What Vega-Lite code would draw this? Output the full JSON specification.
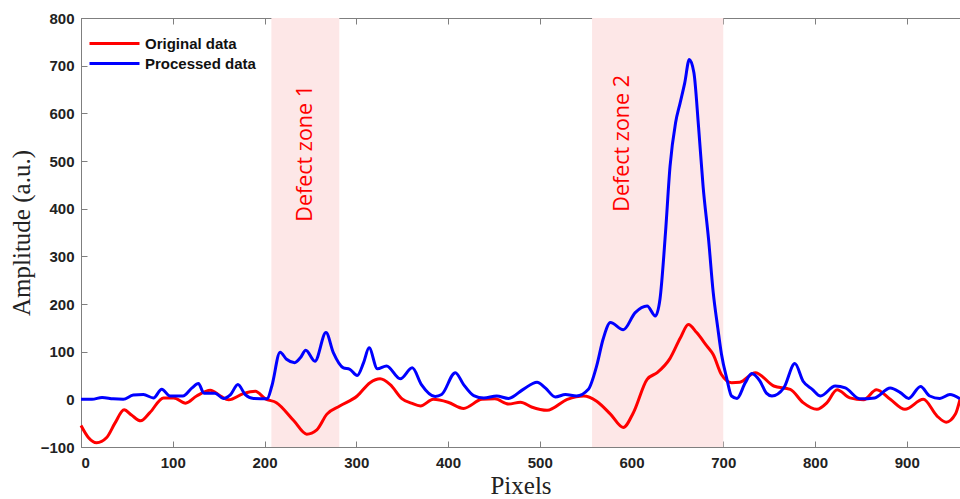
{
  "$schema": "https://vega.github.io/schema/vega-lite/v6.json",
  "width": 879,
  "height": 429,
  "autosize": "none",
  "padding": {"left": 81, "top": 18, "right": 0, "bottom": 52},
  "background": "white",
  "config": {
    "view": {"stroke": "#7f7f7f", "strokeWidth": 1},
    "axis": {
      "domainColor": "#7f7f7f",
      "tickColor": "#7f7f7f",
      "grid": false,
      "labelFont": "Liberation Sans",
      "labelFontWeight": "bold",
      "labelFontSize": 15,
      "labelColor": "#222222",
      "titleFont": "Liberation Serif",
      "titleFontWeight": "normal",
      "titleFontSize": 25,
      "titleColor": "#222222"
    }
  },
  "datasets": {
    "zones": [
      {"start": 207.5, "end": 281.5},
      {"start": 557, "end": 700}
    ],
    "labels": [
      {"x": 245.5, "y": 516, "label": "Defect zone 1"},
      {"x": 591, "y": 537, "label": "Defect zone 2"}
    ],
    "series": [
      {"series": "Original data", "x": 0, "y": -55},
      {"series": "Original data", "x": 8, "y": -80},
      {"series": "Original data", "x": 17, "y": -91},
      {"series": "Original data", "x": 28, "y": -80},
      {"series": "Original data", "x": 37, "y": -50},
      {"series": "Original data", "x": 47, "y": -22},
      {"series": "Original data", "x": 55, "y": -33},
      {"series": "Original data", "x": 65, "y": -45},
      {"series": "Original data", "x": 75, "y": -28},
      {"series": "Original data", "x": 90, "y": 3},
      {"series": "Original data", "x": 101, "y": 3},
      {"series": "Original data", "x": 114, "y": -8},
      {"series": "Original data", "x": 126, "y": 7},
      {"series": "Original data", "x": 141, "y": 19},
      {"series": "Original data", "x": 152, "y": 7},
      {"series": "Original data", "x": 161, "y": -1},
      {"series": "Original data", "x": 177, "y": 12},
      {"series": "Original data", "x": 190, "y": 17},
      {"series": "Original data", "x": 201, "y": 1},
      {"series": "Original data", "x": 213, "y": -7},
      {"series": "Original data", "x": 232, "y": -45},
      {"series": "Original data", "x": 246, "y": -73},
      {"series": "Original data", "x": 257, "y": -64},
      {"series": "Original data", "x": 268, "y": -31},
      {"series": "Original data", "x": 282, "y": -14},
      {"series": "Original data", "x": 301, "y": 7},
      {"series": "Original data", "x": 315, "y": 35},
      {"series": "Original data", "x": 326, "y": 43},
      {"series": "Original data", "x": 337, "y": 31},
      {"series": "Original data", "x": 350, "y": 1},
      {"series": "Original data", "x": 360, "y": -8},
      {"series": "Original data", "x": 370, "y": -14},
      {"series": "Original data", "x": 384, "y": 0},
      {"series": "Original data", "x": 400, "y": -6},
      {"series": "Original data", "x": 417, "y": -19},
      {"series": "Original data", "x": 437, "y": 0},
      {"series": "Original data", "x": 451, "y": 1},
      {"series": "Original data", "x": 466, "y": -10},
      {"series": "Original data", "x": 479, "y": -6},
      {"series": "Original data", "x": 491, "y": -16},
      {"series": "Original data", "x": 508, "y": -23},
      {"series": "Original data", "x": 530, "y": 0},
      {"series": "Original data", "x": 548, "y": 7},
      {"series": "Original data", "x": 562, "y": -4},
      {"series": "Original data", "x": 577, "y": -31},
      {"series": "Original data", "x": 591, "y": -59},
      {"series": "Original data", "x": 602, "y": -28},
      {"series": "Original data", "x": 617, "y": 42},
      {"series": "Original data", "x": 628, "y": 56},
      {"series": "Original data", "x": 642, "y": 86},
      {"series": "Original data", "x": 653, "y": 128},
      {"series": "Original data", "x": 662, "y": 157},
      {"series": "Original data", "x": 671, "y": 140},
      {"series": "Original data", "x": 682, "y": 112},
      {"series": "Original data", "x": 689, "y": 94},
      {"series": "Original data", "x": 698, "y": 52},
      {"series": "Original data", "x": 709, "y": 35},
      {"series": "Original data", "x": 718, "y": 36},
      {"series": "Original data", "x": 735, "y": 56},
      {"series": "Original data", "x": 755, "y": 28},
      {"series": "Original data", "x": 773, "y": 21},
      {"series": "Original data", "x": 787, "y": -7},
      {"series": "Original data", "x": 802, "y": -21},
      {"series": "Original data", "x": 813, "y": -7},
      {"series": "Original data", "x": 824, "y": 20},
      {"series": "Original data", "x": 838, "y": 3},
      {"series": "Original data", "x": 853, "y": -1},
      {"series": "Original data", "x": 867, "y": 20},
      {"series": "Original data", "x": 882, "y": 0},
      {"series": "Original data", "x": 898, "y": -21},
      {"series": "Original data", "x": 918, "y": 0},
      {"series": "Original data", "x": 933, "y": -35},
      {"series": "Original data", "x": 943, "y": -48},
      {"series": "Original data", "x": 953, "y": -31},
      {"series": "Original data", "x": 958, "y": 0},
      {"series": "Processed data", "x": 0, "y": 0},
      {"series": "Processed data", "x": 12, "y": 0},
      {"series": "Processed data", "x": 23, "y": 4},
      {"series": "Processed data", "x": 35, "y": 1},
      {"series": "Processed data", "x": 46, "y": 0},
      {"series": "Processed data", "x": 57, "y": 9},
      {"series": "Processed data", "x": 68, "y": 10},
      {"series": "Processed data", "x": 79, "y": 3},
      {"series": "Processed data", "x": 88, "y": 21},
      {"series": "Processed data", "x": 97, "y": 7},
      {"series": "Processed data", "x": 111, "y": 7},
      {"series": "Processed data", "x": 121, "y": 24},
      {"series": "Processed data", "x": 128, "y": 33},
      {"series": "Processed data", "x": 134, "y": 13},
      {"series": "Processed data", "x": 146, "y": 13},
      {"series": "Processed data", "x": 155, "y": 2},
      {"series": "Processed data", "x": 163, "y": 10},
      {"series": "Processed data", "x": 171, "y": 31},
      {"series": "Processed data", "x": 179, "y": 10},
      {"series": "Processed data", "x": 188, "y": 2},
      {"series": "Processed data", "x": 203, "y": 1},
      {"series": "Processed data", "x": 208, "y": 28},
      {"series": "Processed data", "x": 217, "y": 99},
      {"series": "Processed data", "x": 224, "y": 84},
      {"series": "Processed data", "x": 233, "y": 77},
      {"series": "Processed data", "x": 239, "y": 87},
      {"series": "Processed data", "x": 245, "y": 103},
      {"series": "Processed data", "x": 255, "y": 80},
      {"series": "Processed data", "x": 267, "y": 140},
      {"series": "Processed data", "x": 275, "y": 98},
      {"series": "Processed data", "x": 286, "y": 66},
      {"series": "Processed data", "x": 293, "y": 63},
      {"series": "Processed data", "x": 301, "y": 50},
      {"series": "Processed data", "x": 308, "y": 77},
      {"series": "Processed data", "x": 314, "y": 108},
      {"series": "Processed data", "x": 323, "y": 64},
      {"series": "Processed data", "x": 333, "y": 70},
      {"series": "Processed data", "x": 348, "y": 43},
      {"series": "Processed data", "x": 361, "y": 66},
      {"series": "Processed data", "x": 371, "y": 31},
      {"series": "Processed data", "x": 386, "y": 6},
      {"series": "Processed data", "x": 393, "y": 10},
      {"series": "Processed data", "x": 408, "y": 56},
      {"series": "Processed data", "x": 417, "y": 31},
      {"series": "Processed data", "x": 428, "y": 8},
      {"series": "Processed data", "x": 439, "y": 3},
      {"series": "Processed data", "x": 453, "y": 7},
      {"series": "Processed data", "x": 466, "y": 2},
      {"series": "Processed data", "x": 482, "y": 21},
      {"series": "Processed data", "x": 497, "y": 36},
      {"series": "Processed data", "x": 506, "y": 24},
      {"series": "Processed data", "x": 517, "y": 5},
      {"series": "Processed data", "x": 528, "y": 10},
      {"series": "Processed data", "x": 540, "y": 7},
      {"series": "Processed data", "x": 553, "y": 21},
      {"series": "Processed data", "x": 562, "y": 70},
      {"series": "Processed data", "x": 569, "y": 126},
      {"series": "Processed data", "x": 577, "y": 161},
      {"series": "Processed data", "x": 591, "y": 146},
      {"series": "Processed data", "x": 604, "y": 182},
      {"series": "Processed data", "x": 617, "y": 196},
      {"series": "Processed data", "x": 626, "y": 175},
      {"series": "Processed data", "x": 631, "y": 210},
      {"series": "Processed data", "x": 637, "y": 349},
      {"series": "Processed data", "x": 642, "y": 489},
      {"series": "Processed data", "x": 648, "y": 580},
      {"series": "Processed data", "x": 653, "y": 622},
      {"series": "Processed data", "x": 658, "y": 664},
      {"series": "Processed data", "x": 663, "y": 713},
      {"series": "Processed data", "x": 668, "y": 685},
      {"series": "Processed data", "x": 673, "y": 573},
      {"series": "Processed data", "x": 678, "y": 447},
      {"series": "Processed data", "x": 684, "y": 335},
      {"series": "Processed data", "x": 689, "y": 225},
      {"series": "Processed data", "x": 694, "y": 150},
      {"series": "Processed data", "x": 698, "y": 95},
      {"series": "Processed data", "x": 704, "y": 42},
      {"series": "Processed data", "x": 709, "y": 7},
      {"series": "Processed data", "x": 715, "y": 2},
      {"series": "Processed data", "x": 724, "y": 35},
      {"series": "Processed data", "x": 731, "y": 54},
      {"series": "Processed data", "x": 740, "y": 38},
      {"series": "Processed data", "x": 747, "y": 13},
      {"series": "Processed data", "x": 753, "y": 7},
      {"series": "Processed data", "x": 766, "y": 24},
      {"series": "Processed data", "x": 778, "y": 75},
      {"series": "Processed data", "x": 787, "y": 38},
      {"series": "Processed data", "x": 797, "y": 21},
      {"series": "Processed data", "x": 806, "y": 7},
      {"series": "Processed data", "x": 822, "y": 28},
      {"series": "Processed data", "x": 833, "y": 24},
      {"series": "Processed data", "x": 849, "y": 1},
      {"series": "Processed data", "x": 865, "y": 3},
      {"series": "Processed data", "x": 882, "y": 24},
      {"series": "Processed data", "x": 893, "y": 14},
      {"series": "Processed data", "x": 902, "y": 2},
      {"series": "Processed data", "x": 915, "y": 27},
      {"series": "Processed data", "x": 925, "y": 7},
      {"series": "Processed data", "x": 936, "y": 2},
      {"series": "Processed data", "x": 947, "y": 10},
      {"series": "Processed data", "x": 958, "y": 1}
    ]
  },
  "resolve": {"axis": {"x": "independent", "y": "independent"}},
  "layer": [
    {
      "data": {"name": "zones"},
      "mark": {"type": "rect", "color": "#fde7e7"},
      "encoding": {
        "x": {
          "field": "start", "type": "quantitative",
          "scale": {"domain": [0, 958], "nice": false, "zero": false},
          "axis": {"orient": "bottom", "values": [0, 100, 200, 300, 400, 500, 600, 700, 800, 900], "tickSize": -6, "labelPadding": 14, "title": "Pixels", "titlePadding": 3}
        },
        "x2": {"field": "end"}
      }
    },
    {
      "data": {"name": "labels"},
      "mark": {"type": "text", "angle": 270, "align": "center", "baseline": "middle", "color": "#ff0000", "font": "Open Sans", "fontSize": 21.5},
      "encoding": {
        "x": {"field": "x", "type": "quantitative", "axis": null},
        "y": {"field": "y", "type": "quantitative", "axis": null},
        "text": {"field": "label"}
      }
    },
    {
      "data": {"name": "series"},
      "mark": {"type": "line", "strokeWidth": 3, "interpolate": "monotone"},
      "encoding": {
        "x": {"field": "x", "type": "quantitative", "axis": {"orient": "top", "values": [0, 100, 200, 300, 400, 500, 600, 700, 800, 900], "labels": false, "domain": false, "tickSize": -6, "title": null}},
        "y": {
          "field": "y", "type": "quantitative",
          "scale": {"domain": [-100, 800], "nice": false, "zero": false},
          "axis": {"orient": "left", "values": [-100, 0, 100, 200, 300, 400, 500, 600, 700, 800], "tickSize": -6, "labelPadding": 13, "title": "Amplitude (a.u.)", "titlePadding": 6}
        },
        "color": {
          "field": "series", "type": "nominal",
          "scale": {"domain": ["Original data", "Processed data"], "range": ["#ff0000", "#0000ff"]},
          "legend": {
            "title": null, "orient": "none", "legendX": 7, "legendY": 14,
            "symbolType": "M-1,0H4", "symbolSize": 400, "symbolStrokeWidth": 3, "symbolFillColor": "transparent",
            "labelFont": "Liberation Sans", "labelFontWeight": "bold", "labelFontSize": 15,
            "labelColor": "#111111", "labelOffset": 34, "rowPadding": 0, "padding": 0
          }
        }
      }
    }
  ]
}
